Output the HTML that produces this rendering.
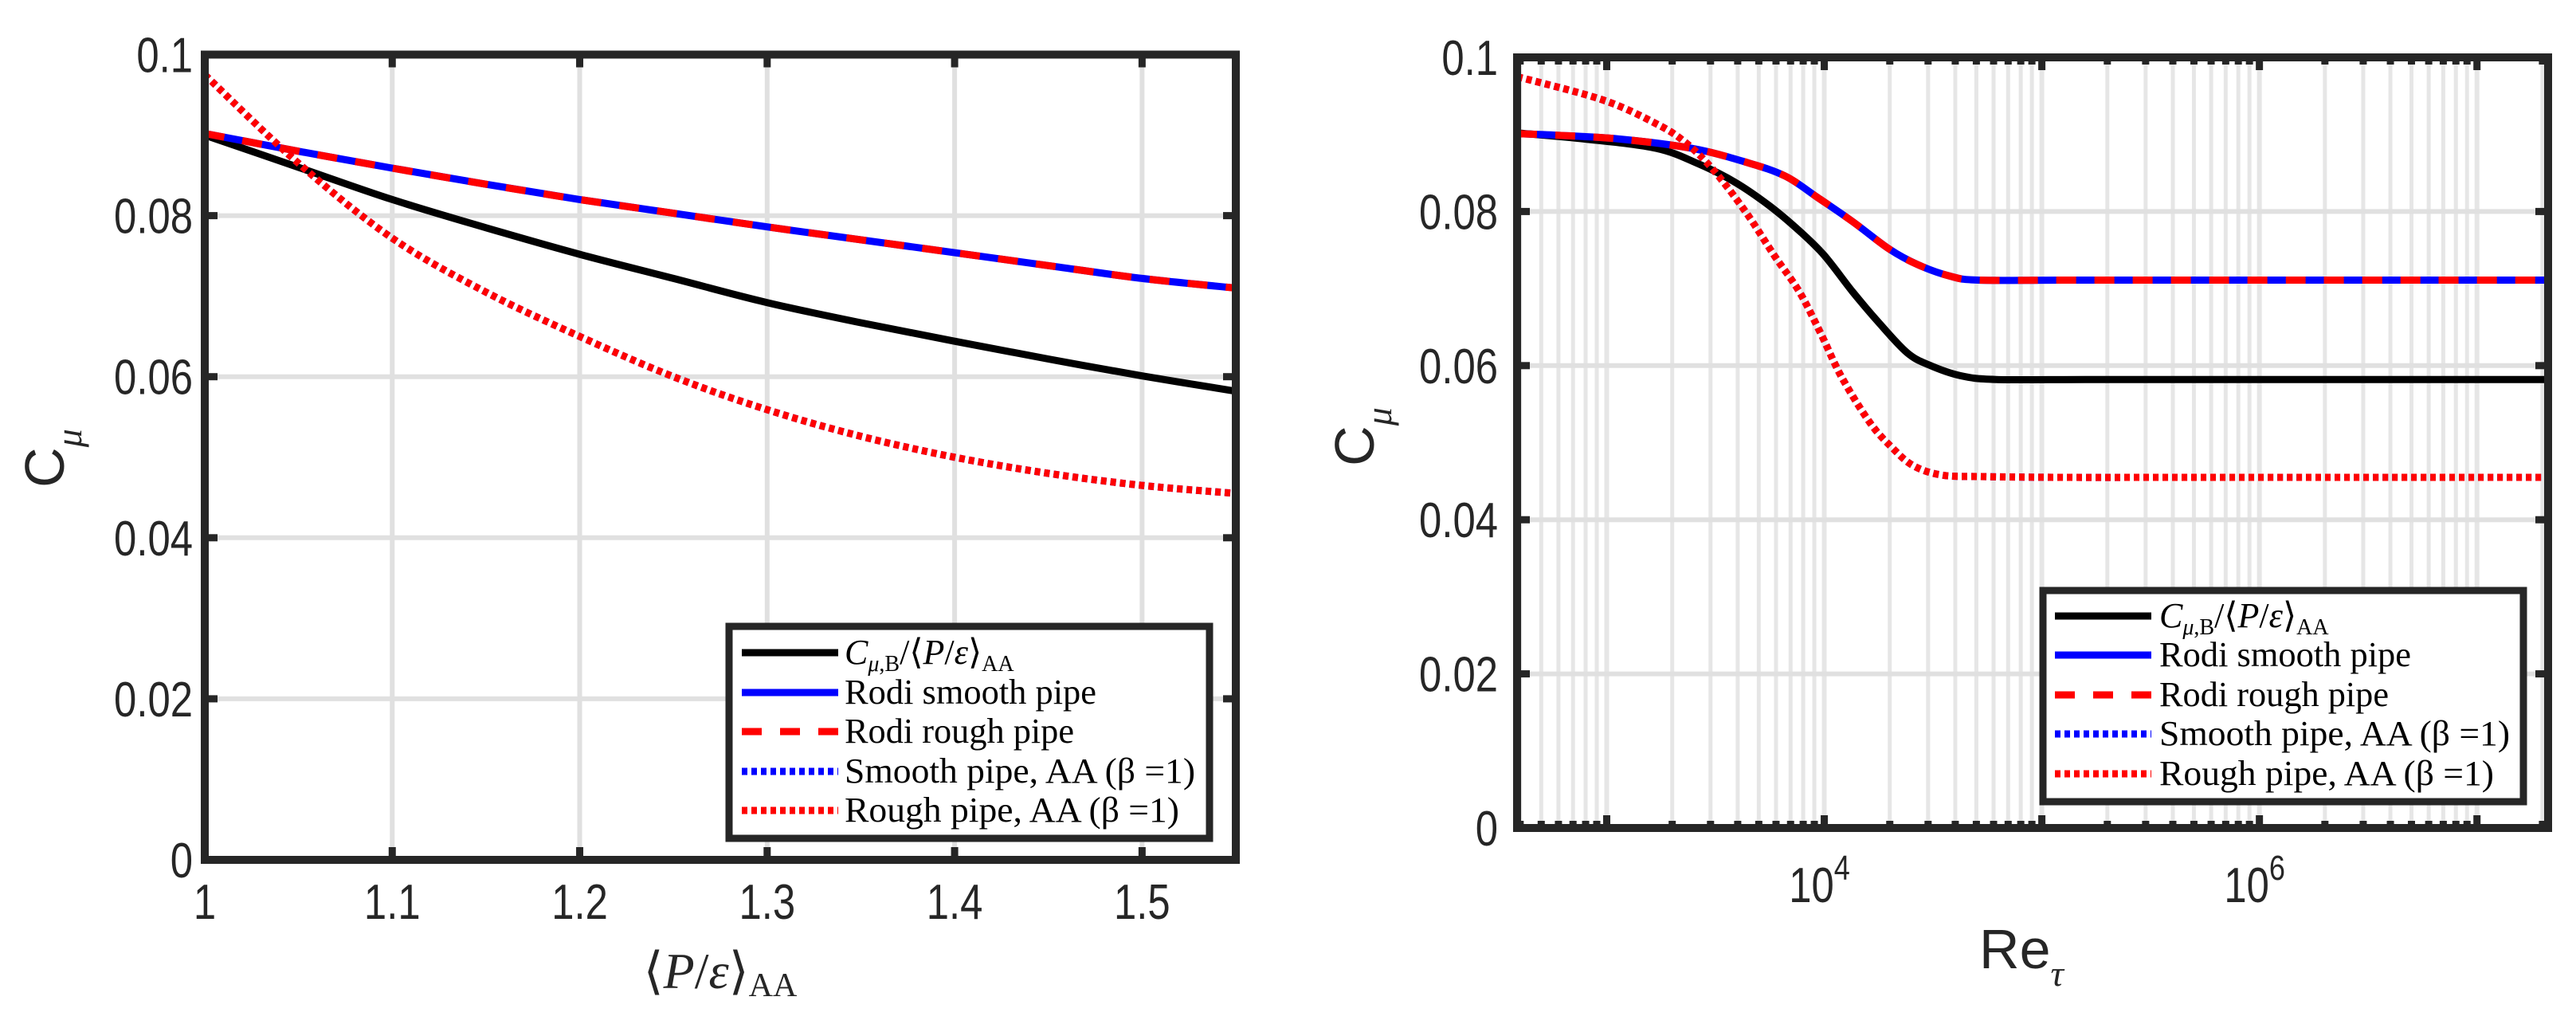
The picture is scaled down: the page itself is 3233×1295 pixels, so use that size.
<!DOCTYPE html>
<html><head><meta charset="utf-8"><style>
html,body{margin:0;padding:0;background:#fff}
svg{display:block}
</style></head><body>
<svg id="fig" width="3233" height="1295" viewBox="0 0 3233 1295" xmlns="http://www.w3.org/2000/svg">
<rect width="3233" height="1295" fill="#fff"/>
<g id="left"></g>
<g id="right"></g>
</svg>
<script>
// ---- Left panel data ----
const lx = [1, 1.05, 1.1, 1.15, 1.2, 1.25, 1.3, 1.35, 1.4, 1.45, 1.5, 1.55];
const lBlack = [0.090, 0.0860, 0.0820, 0.0785, 0.0752, 0.0722, 0.0692, 0.0667, 0.0644, 0.0622, 0.0601, 0.0582];
const lRodi = [0.0902, 0.0880, 0.0859, 0.0839, 0.0820, 0.0803, 0.0786, 0.0770, 0.0754, 0.0738, 0.0722, 0.0710];
const lAA = [0.0975, 0.0865, 0.0772, 0.0705, 0.0650, 0.0600, 0.0559, 0.0526, 0.0500, 0.0480, 0.0465, 0.0455];
const lXTicks = [1, 1.1, 1.2, 1.3, 1.4, 1.5];
const lXTickLabels = ["1", "1.1", "1.2", "1.3", "1.4", "1.5"];
const yTicks = [0, 0.02, 0.04, 0.06, 0.08, 0.1];
const yTickLabels = ["0", "0.02", "0.04", "0.06", "0.08", "0.1"];
// ---- Right panel data (log10 Re_tau) ----
const rBx = [2.588, 2.9, 3.227, 3.42, 3.59, 3.75, 3.885, 4.0, 4.13, 4.25, 4.38, 4.48, 4.625, 4.79, 5.2, 5.8, 6.4, 7.0, 7.327];
const rBlack = [0.0902, 0.0894, 0.0882, 0.0862, 0.0838, 0.0807, 0.0775, 0.0743, 0.0696, 0.0656, 0.0617, 0.0601, 0.0587, 0.0582, 0.0582, 0.0582, 0.0582, 0.0582, 0.0582];
const rRx = [2.588, 2.77, 3.06, 3.39, 3.64, 3.82, 3.97, 4.13, 4.30, 4.43, 4.58, 4.71, 5.1, 5.6, 6.2, 6.8, 7.327];
const rRodi = [0.0901, 0.0899, 0.0894, 0.0882, 0.0864, 0.0846, 0.0818, 0.0787, 0.0751, 0.0731, 0.0716, 0.0711, 0.0711, 0.0711, 0.0711, 0.0711, 0.0711];
const rAx = [2.588, 2.98, 3.227, 3.36, 3.49, 3.64, 3.77, 3.885, 3.98, 4.08, 4.21, 4.31, 4.41, 4.54, 4.71, 5.1, 5.6, 6.2, 6.8, 7.327];
const rAA = [0.0975, 0.0945, 0.0914, 0.0890, 0.0854, 0.0799, 0.0743, 0.0696, 0.0644, 0.0585, 0.0526, 0.0494, 0.0470, 0.0458, 0.0456, 0.0455, 0.0455, 0.0455, 0.0455, 0.0455];
const rXTicks = [4, 6];
const rXTickLabels = ["4", "6"];
const rXmin = 2.588, rXmax = 7.327;

const NS = "http://www.w3.org/2000/svg";
function mk(tag, attrs, parent){ const e=document.createElementNS(NS,tag); for(const k in attrs) e.setAttribute(k,attrs[k]); parent.appendChild(e); return e; }
const AX="#262626", GRID="#e0e0e0";
const SANS='"Liberation Sans", "DejaVu Sans", sans-serif';
const SERIF='"Liberation Serif", "DejaVu Serif", serif';
const LW=9;

function smoothPath(pts){
  let d="M"+pts[0][0].toFixed(1)+","+pts[0][1].toFixed(1);
  for(let i=0;i<pts.length-1;i++){
    const p0=pts[Math.max(i-1,0)],p1=pts[i],p2=pts[i+1],p3=pts[Math.min(i+2,pts.length-1)];
    const c1x=p1[0]+(p2[0]-p0[0])/6,c1y=p1[1]+(p2[1]-p0[1])/6;
    const c2x=p2[0]-(p3[0]-p1[0])/6,c2y=p2[1]-(p3[1]-p1[1])/6;
    d+=" C"+c1x.toFixed(1)+","+c1y.toFixed(1)+" "+c2x.toFixed(1)+","+c2y.toFixed(1)+" "+p2[0].toFixed(1)+","+p2[1].toFixed(1);
  }
  return d;
}
function label(g, x, y, anchor, html, size){
  const t=mk("text",{x:0,y:0,transform:"translate("+x+","+y+") scale(0.82,1)","text-anchor":anchor,"font-family":SANS,"font-size":size||62,fill:AX},g);
  t.innerHTML=html;
  return t;
}

function legend(g, x0, y0, x1, y1, rows, lineX0, lineX1, textX){
  const lg=mk("g",{},g);
  
  
  mk("rect",{x:x0,y:y0,width:x1-x0,height:y1-y0,fill:"#fff",stroke:AX,"stroke-width":9},lg);
  const items=[
    {c:"#000",dash:"",name:"legend-entry-cmu-b",w:236},
    {c:"#0000ff",dash:"",name:"legend-entry-rodi-smooth",w:316},
    {c:"#ff0000",dash:"25 23",name:"legend-entry-rodi-rough",w:288},
    {c:"#0000ff",dash:"7 5",name:"legend-entry-smooth-aa",w:440},
    {c:"#ff0000",dash:"7 5",name:"legend-entry-rough-aa",w:420}];
  items.forEach((it,i)=>{
    const y=rows[i];
    const e=mk("g",{},lg);
    
    
    const ln=mk("line",{x1:lineX0,y1:y,x2:lineX1,y2:y,stroke:it.c,"stroke-width":LW},e);
    if(it.dash) ln.setAttribute("stroke-dasharray",it.dash);
    const t=mk("text",{x:textX,y:y+14,"font-family":SERIF,"font-size":44,fill:"#000"},e);
    if(i===0){
      t.innerHTML='<tspan font-style="italic">C</tspan><tspan font-size="28" dy="9"><tspan font-style="italic">μ</tspan>,B</tspan><tspan dy="-9">/⟨</tspan><tspan font-style="italic">P</tspan>/<tspan font-style="italic">ε</tspan>⟩<tspan font-size="28" dy="9">AA</tspan>';
    } else {
      t.textContent=["","Rodi smooth pipe","Rodi rough pipe","Smooth pipe, AA (β =1)","Rough pipe, AA (β =1)"][i];
      t.setAttribute("textLength",it.w);
      t.setAttribute("lengthAdjust","spacingAndGlyphs");
    }
  });
}

// ---------- LEFT ----------
(function(){
  const g=document.getElementById("left");
  const L=257,R=1551,T=68.5,B=1079;
  const X=v=>L+(v-1)/(0.55)*(R-L);
  const Y=v=>B-(v/0.1)*(B-T);
  lXTicks.forEach(v=>{ const l=mk("line",{x1:X(v),y1:T,x2:X(v),y2:B,stroke:GRID,"stroke-width":6},g);   });
  yTicks.forEach(v=>{ const l=mk("line",{x1:L,y1:Y(v),x2:R,y2:Y(v),stroke:GRID,"stroke-width":6},g);   });
  const series=[
    {y:lBlack,c:"#000",d:"",n:"curve-cmu-b"},
    {y:lRodi,c:"#0000ff",d:"",n:"curve-rodi-smooth"},
    {y:lRodi,c:"#ff0000",d:"25 23",n:"curve-rodi-rough"},
    {y:lAA,c:"#0000ff",d:"7 5",n:"curve-smooth-aa"},
    {y:lAA,c:"#ff0000",d:"7 5",n:"curve-rough-aa"}];
  series.forEach(s=>{
    const p=mk("path",{d:smoothPath(lx.map((v,i)=>[X(v),Y(s.y[i])])),fill:"none",stroke:s.c,"stroke-width":LW},g);
    if(s.d) p.setAttribute("stroke-dasharray",s.d);
    
    
  });
  mk("rect",{x:L,y:T,width:R-L,height:B-T,fill:"none",stroke:AX,"stroke-width":10},g);
  lXTicks.forEach((v,i)=>{
    mk("line",{x1:X(v),y1:B,x2:X(v),y2:B-16,stroke:AX,"stroke-width":9},g);
    mk("line",{x1:X(v),y1:T,x2:X(v),y2:T+16,stroke:AX,"stroke-width":9},g);
    const t=label(g,X(v),1153,"middle",lXTickLabels[i]);
    
    
  });
  yTicks.forEach((v,i)=>{
    mk("line",{x1:L,y1:Y(v),x2:L+16,y2:Y(v),stroke:AX,"stroke-width":9},g);
    mk("line",{x1:R,y1:Y(v),x2:R-16,y2:Y(v),stroke:AX,"stroke-width":9},g);
    const t=label(g,242,Y(v)+22,"end",yTickLabels[i]);
    
    
  });
  const xt=mk("text",{x:904,y:1240,"text-anchor":"middle","font-family":SERIF,"font-size":64,fill:AX},g);
  xt.innerHTML='⟨<tspan font-style="italic">P</tspan>/<tspan font-style="italic">ε</tspan>⟩<tspan font-size="42" dy="10">AA</tspan>';
  
  
  const yt=mk("text",{x:0,y:0,transform:"translate(80,575) rotate(-90)","text-anchor":"middle","font-family":SANS,"font-size":70,fill:AX},g);
  yt.innerHTML='C<tspan font-family=\'"Liberation Serif", serif\' font-style="italic" font-size="46" dy="22">μ</tspan>';
  
  
  legend(g,915,786,1518,1052,[819,869,918,968,1017],931,1052,1060);
})();

// ---------- RIGHT ----------
(function(){
  const g=document.getElementById("right");
  const L=1904,R=3198,T=72,B=1039;
  const X=lv=>L+(lv-rXmin)/(rXmax-rXmin)*(R-L);
  const Y=v=>B-(v/0.1)*(B-T);
  for(let k=2;k<=7;k++){
    for(let m=1;m<=9;m++){
      const lv=k+Math.log10(m);
      if(lv<=rXmin+0.002||lv>=rXmax-0.002) continue;
      const l=mk("line",{x1:X(lv),y1:T,x2:X(lv),y2:B,stroke:"#e6e6e6","stroke-width":m===1?6:5},g);
      
      
      mk("line",{x1:X(lv),y1:B,x2:X(lv),y2:B-(m===1?16:9),stroke:AX,"stroke-width":9},g);
      mk("line",{x1:X(lv),y1:T,x2:X(lv),y2:T+(m===1?16:9),stroke:AX,"stroke-width":9},g);
    }
  }
  yTicks.forEach(v=>{ const l=mk("line",{x1:L,y1:Y(v),x2:R,y2:Y(v),stroke:GRID,"stroke-width":6},g);   });
  const series=[
    {x:rBx,y:rBlack,c:"#000",d:"",n:"curve-cmu-b"},
    {x:rRx,y:rRodi,c:"#0000ff",d:"",n:"curve-rodi-smooth"},
    {x:rRx,y:rRodi,c:"#ff0000",d:"25 23",n:"curve-rodi-rough"},
    {x:rAx,y:rAA,c:"#0000ff",d:"7 5",n:"curve-smooth-aa"},
    {x:rAx,y:rAA,c:"#ff0000",d:"7 5",n:"curve-rough-aa"}];
  series.forEach(s=>{
    const p=mk("path",{d:smoothPath(s.x.map((v,i)=>[X(v),Y(s.y[i])])),fill:"none",stroke:s.c,"stroke-width":LW},g);
    if(s.d) p.setAttribute("stroke-dasharray",s.d);
    
    
  });
  mk("rect",{x:L,y:T,width:R-L,height:B-T,fill:"none",stroke:AX,"stroke-width":10},g);
  rXTicks.forEach((v,i)=>{
    const t=label(g,X(v)-6,1132,"middle",'10<tspan font-size="44" dy="-28">'+rXTickLabels[i]+'</tspan>');
    
    
  });
  yTicks.forEach((v,i)=>{
    mk("line",{x1:L,y1:Y(v),x2:L+16,y2:Y(v),stroke:AX,"stroke-width":9},g);
    mk("line",{x1:R,y1:Y(v),x2:R-16,y2:Y(v),stroke:AX,"stroke-width":9},g);
    const t=label(g,1880,Y(v)+22,"end",yTickLabels[i]);
    
    
  });
  const xt=mk("text",{x:2537,y:1215,"text-anchor":"middle","font-family":SANS,"font-size":70,fill:AX},g);
  xt.innerHTML='Re<tspan font-family=\'"Liberation Serif", serif\' font-style="italic" font-size="46" dy="22">τ</tspan>';
  
  
  const yt=mk("text",{x:0,y:0,transform:"translate(1724,548) rotate(-90)","text-anchor":"middle","font-family":SANS,"font-size":70,fill:AX},g);
  yt.innerHTML='C<tspan font-family=\'"Liberation Serif", serif\' font-style="italic" font-size="46" dy="22">μ</tspan>';
  
  
  legend(g,2564,741,3167,1006,[773,822,872,921,971],2579,2700,2710);
})();
</script>
</body></html>
